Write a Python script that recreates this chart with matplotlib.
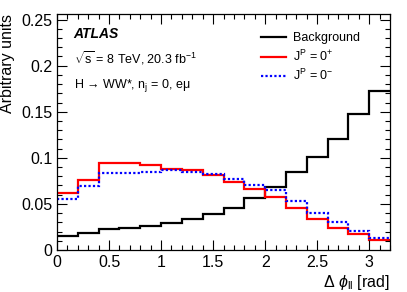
import matplotlib.pyplot as plt
import numpy as np
from matplotlib.ticker import MultipleLocator

plt.rcParams['font.family'] = ['Liberation Sans', 'DejaVu Sans']
plt.rcParams['mathtext.fontset'] = 'custom'
plt.rcParams['mathtext.rm'] = 'Liberation Sans'
plt.rcParams['mathtext.it'] = 'Liberation Sans:italic'

# bin edges in delta phi_ll [rad]
edges = np.linspace(0, 3.2, 17)

background = [0.0155, 0.0185, 0.0225, 0.024, 0.026, 0.029, 0.0333, 0.039,
              0.046, 0.056, 0.0688, 0.0848, 0.1008, 0.1207, 0.1475, 0.173]
jp_plus = [0.0623, 0.076, 0.094, 0.094, 0.092, 0.088, 0.087, 0.0815,
           0.0736, 0.0663, 0.0576, 0.046, 0.0337, 0.0243, 0.017, 0.0109]
jp_minus = [0.055, 0.0696, 0.0833, 0.084, 0.085, 0.087, 0.085, 0.0826,
            0.0768, 0.070, 0.065, 0.053, 0.040, 0.030, 0.021, 0.013]

fig = plt.figure(figsize=(4.07, 2.92), dpi=100)
ax = fig.add_axes([57 / 407, 1 - 250 / 292, 333 / 407, 236 / 292])

ax.stairs(background, edges, color='black', lw=1.6, label='Background', baseline=None)
ax.stairs(jp_plus, edges, color='red', lw=1.6, label=r'J$^{\rm P}$ = 0$^{+}$', baseline=None)
ax.stairs(jp_minus, edges, color='blue', lw=1.6, ls=(0, (1, 1)),
          label=r'J$^{\rm P}$ = 0$^{-}$', baseline=None)

ax.set_xlim(0, 3.2)
ax.set_ylim(0, 0.256)
ax.xaxis.set_major_locator(MultipleLocator(0.5))
ax.xaxis.set_minor_locator(MultipleLocator(0.1))
ax.yaxis.set_major_locator(MultipleLocator(0.05))
ax.yaxis.set_minor_locator(MultipleLocator(0.01))
ax.tick_params(which='both', direction='in', top=True, right=True, labelsize=11.5)
ax.tick_params(which='major', length=7, width=0.8)
ax.tick_params(which='minor', length=3.5, width=0.8)
ax.set_xticks([0, 0.5, 1, 1.5, 2, 2.5, 3])
ax.set_xticklabels(['0', '0.5', '1', '1.5', '2', '2.5', '3'])
ax.set_yticks([0, 0.05, 0.1, 0.15, 0.2, 0.25])
ax.set_yticklabels(['0', '0.05', '0.1', '0.15', '0.2', '0.25'])
for s in ax.spines.values():
    s.set_linewidth(0.9)

ax.set_ylabel('Arbitrary units', fontsize=11.5, loc='top')
ax.set_xlabel(r'$\Delta\ \phi_{\rm ll}$ [rad]', fontsize=11.5, loc='right', labelpad=2)

ax.text(0.05, 0.9, 'ATLAS', transform=ax.transAxes, fontsize=10,
        fontweight='bold', style='italic')
ax.text(0.05, 0.79, r'$\sqrt{\rm s}$ = 8 TeV, 20.3 fb$^{-1}$', transform=ax.transAxes, fontsize=9)
ax.text(0.05, 0.685, r'H → WW*, n$_{\rm j}$ = 0, eμ', transform=ax.transAxes, fontsize=9)

ax.legend(loc='upper left', bbox_to_anchor=(0.58, 0.97), frameon=False, fontsize=9,
          handlelength=2.0, handletextpad=0.5, labelspacing=0.35)

fig.savefig('out.png', dpi=100)
